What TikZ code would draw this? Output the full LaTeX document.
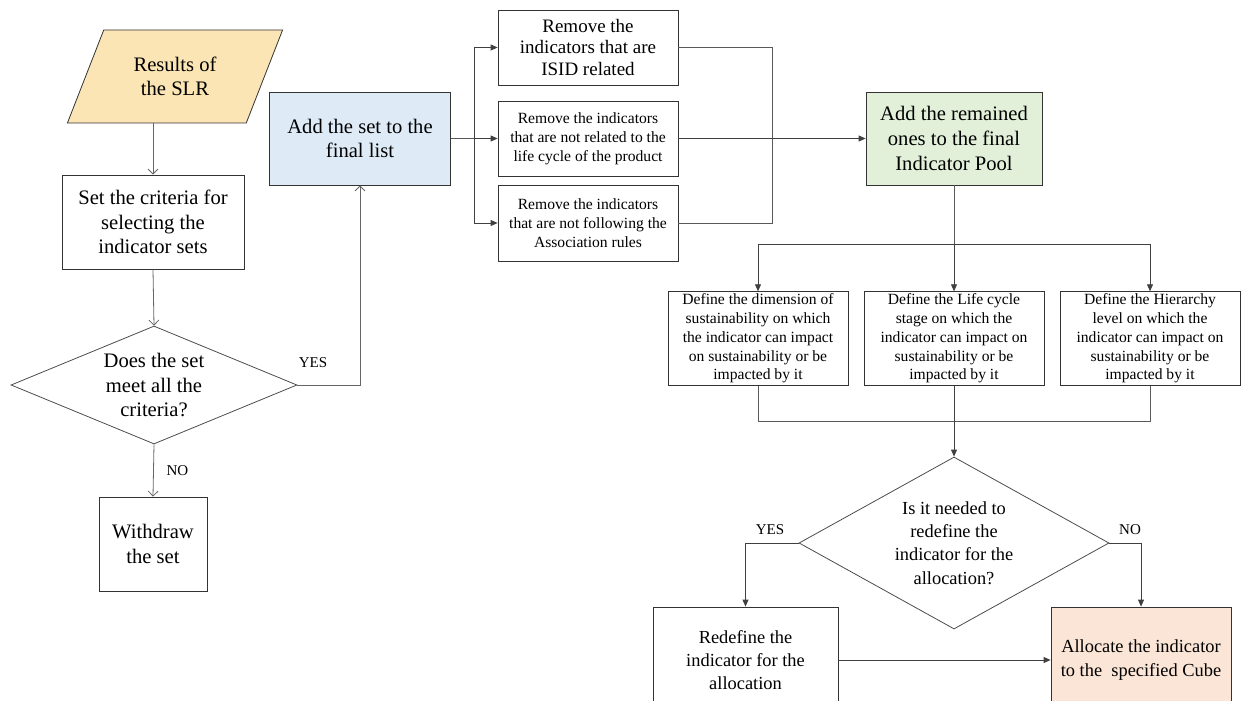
\documentclass[tikz,border=0pt]{standalone}
\usepackage{fontspec}
\setmainfont{Liberation Serif}
\newfontfamily\tnr{Liberation Serif}
\usetikzlibrary{shapes.geometric,arrows.meta}
\definecolor{slrfill}{RGB}{251,229,180}
\definecolor{setfill}{RGB}{222,235,247}
\definecolor{poolfill}{RGB}{226,240,217}
\definecolor{cubefill}{RGB}{251,229,214}
\tikzset{
  box/.style={draw=black!80, rectangle, align=center, inner sep=1pt},
  big/.style={font=\tnr\fontsize{10.3}{12.3}\selectfont},
  med/.style={font=\tnr\fontsize{9.2}{11.6}\selectfont},
  mid/.style={font=\tnr\fontsize{9.5}{10.8}\selectfont},
  small/.style={font=\tnr\fontsize{7.8}{9.4}\selectfont},
  lbl/.style={font=\tnr\fontsize{7.5}{8}\selectfont},
  barb/.style={draw=black!60, -{Straight Barb[length=2.5pt,width=5pt]}},
  tri/.style={draw=black!75, -{Triangle[length=3.5pt,width=3pt]}},
  wire/.style={draw=black!65}
}
\begin{document}
\begin{tikzpicture}[x=0.5pt, y=-0.5pt]
\useasboundingbox (0,0) rectangle (1245,700);
\clip (0,0) rectangle (1245,700);

% left column
\node[trapezium, trapezium left angle=65, trapezium right angle=115, trapezium stretches=true,
  draw=black!80, fill=slrfill, minimum width=108pt, minimum height=46.5pt, big, align=center] (slr) at (175,76.5) {Results of\\the SLR};
\node[box, big, minimum width=91pt, minimum height=47pt] (crit) at (153,222) {Set the criteria for\\selecting the\\indicator sets};
\node[diamond, draw=black!70, aspect=2.4, inner sep=0pt, minimum width=143pt, minimum height=59pt, big, align=center] (meet) at (154,385) {Does the set\\meet all the\\criteria?};
\node[box, big, minimum width=54pt, minimum height=47pt] (wd) at (153,544) {Withdraw\\the set};
\node[box, big, fill=setfill, minimum width=90.5pt, minimum height=46.5pt] (addset) at (360,138.5) {Add the set to the\\final list};

% removal step
\node[box, mid, minimum width=90pt, minimum height=37.5pt] (rem1) at (588,47.5) {Remove the\\indicators that are\\ISID related};
\node[box, small, minimum width=90pt, minimum height=37.5pt] (rem2) at (588,138.5) {Remove the indicators\\that are not related to the\\life cycle of the product};
\node[box, small, minimum width=90pt, minimum height=38pt] (rem3) at (588,223) {Remove the indicators\\that are not following the\\Association rules};
\node[box, big, fill=poolfill, minimum width=88pt, minimum height=46.5pt] (pool) at (954,138.5) {Add the remained\\ones to the final\\Indicator Pool};

% define step
\node[box, small, minimum width=90pt, minimum height=46.5pt] (defA) at (758,338.5) {Define the dimension of\\sustainability on which\\the indicator can impact\\on sustainability or be\\impacted by it};
\node[box, small, minimum width=90pt, minimum height=46.5pt] (defB) at (954,338.5) {Define the Life cycle\\stage on which the\\indicator can impact on\\sustainability or be\\impacted by it};
\node[box, small, minimum width=90pt, minimum height=46.5pt] (defC) at (1150,338.5) {Define the Hierarchy\\level on which the\\indicator can impact on\\sustainability or be\\impacted by it};

\node[diamond, draw=black!70, aspect=1.8, inner sep=0pt, minimum width=155pt, minimum height=86pt, med, align=center] (need) at (954,543) {Is it needed to\\redefine the\\indicator for the\\allocation?};
\node[box, med, minimum width=92.5pt, minimum height=53pt] (redef) at (745.5,660) {Redefine the\\indicator for the\\allocation};
\node[box, med, fill=cubefill, minimum width=90pt, minimum height=53pt] (cube) at (1141,660) {Allocate the indicator\\to the\ \ specified Cube};

\coordinate (fork) at (474,138.5);
\coordinate (join) at (772,138.5);
\coordinate (split) at (954,244);
\coordinate (merge) at (954,421);

% edges
\draw[barb] (slr.south -| crit.north) -- (crit.north);
\draw[barb] (crit.south) -- (meet.north);
\draw[barb] (meet.south) -- node[lbl, right=3pt] {NO} (wd.north);
\draw[barb] (meet.east) -| (addset.south);
\node[lbl] (yes1) at (313,363) {YES};

\draw[wire] (addset.east) -- (fork);
\draw[tri] (fork) |- (rem1.west);
\draw[tri] (fork) -- (rem2.west);
\draw[tri] (fork) |- (rem3.west);
\draw[wire] (rem1.east) -| (join) |- (rem3.east);
\draw[tri] (rem2.east) -- (pool.west);

\draw[wire] (pool.south) -- (split);
\draw[tri] (split) -| (defA.north);
\draw[tri] (split) -- (defB.north);
\draw[tri] (split) -| (defC.north);
\draw[wire] (defA.south) |- (merge);
\draw[wire] (defC.south) |- (merge);
\draw[tri] (defB.south) -- (need.north);

\draw[tri] (need.west) -| (redef.north);
\draw[tri] (need.east) -| (cube.north);
\node[lbl] (yes2) at (770,530) {YES};
\node[lbl] (no2) at (1130,530) {NO};
\draw[tri] (redef.east) -- (cube.west);
\end{tikzpicture}
\end{document}
